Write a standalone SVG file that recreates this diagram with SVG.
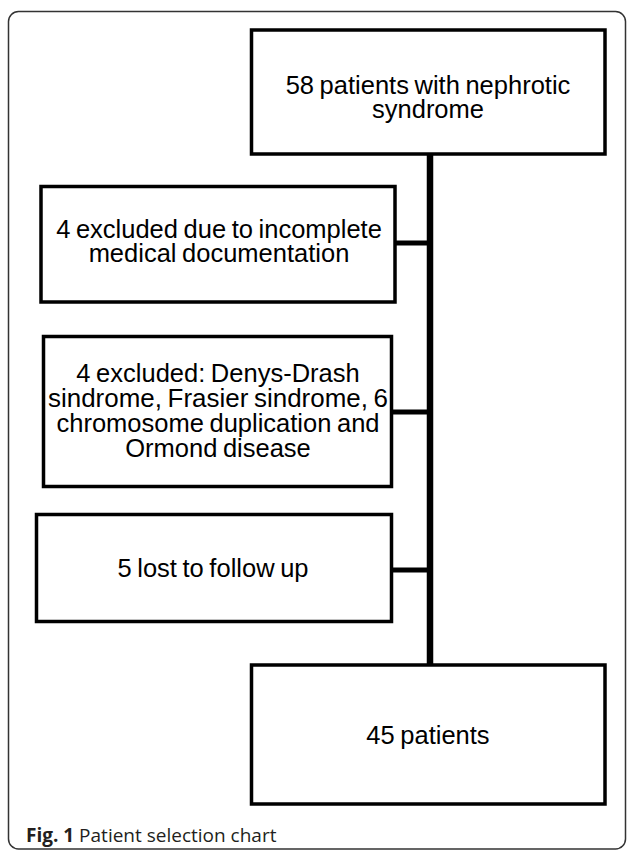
<svg xmlns="http://www.w3.org/2000/svg" width="629" height="852" viewBox="0 0 629 852">
<style>
.frame{fill:#fff;stroke:#333;stroke-width:1.5}
.box{fill:#fff;stroke:#000;stroke-width:3.5}
.lbl{font-family:"Liberation Sans",Arial,sans-serif;font-size:25.5px;fill:#000;text-anchor:middle;word-spacing:-1.5px}
.conn{stroke:#000;fill:none}
.cap{font-family:"Open Sans","Liberation Sans",sans-serif;font-size:19px;fill:#231f20}
</style>
<rect class="frame" x="8.5" y="11.5" width="617" height="837.5" rx="10"/>
<g id="connectors">
<line class="conn" x1="430" y1="154" x2="430" y2="665" stroke-width="6.5"/>
<line class="conn" x1="395" y1="243" x2="430" y2="243" stroke-width="5"/>
<line class="conn" x1="391.5" y1="412" x2="430" y2="412" stroke-width="5"/>
<line class="conn" x1="391.5" y1="570" x2="430" y2="570" stroke-width="5"/>
</g>
<g id="n1">
<rect class="box" x="251.5" y="30" width="353.5" height="124"/>
<text class="lbl" x="428" y="94">58 patients with nephrotic</text>
<text class="lbl" x="428" y="118">syndrome</text>
</g>
<g id="n2">
<rect class="box" x="41" y="186.5" width="354" height="115.5"/>
<text class="lbl" x="219" y="238">4 excluded due to incomplete</text>
<text class="lbl" x="219" y="262">medical documentation</text>
</g>
<g id="n3">
<rect class="box" x="43.5" y="336.5" width="348" height="150"/>
<text class="lbl" x="218" y="382">4 excluded: Denys-Drash</text>
<text class="lbl" x="218" y="407" textLength="340" lengthAdjust="spacingAndGlyphs">sindrome, Frasier sindrome, 6</text>
<text class="lbl" x="218" y="432">chromosome duplication and</text>
<text class="lbl" x="218" y="457">Ormond disease</text>
</g>
<g id="n4">
<rect class="box" x="36.5" y="514.5" width="355" height="107"/>
<text class="lbl" x="213" y="577">5 lost to follow up</text>
</g>
<g id="n5">
<rect class="box" x="251.5" y="665" width="353.5" height="139"/>
<text class="lbl" x="428" y="744">45 patients</text>
</g>
<text class="cap" x="26" y="842"><tspan font-weight="bold">Fig. 1</tspan> Patient selection chart</text>
</svg>
